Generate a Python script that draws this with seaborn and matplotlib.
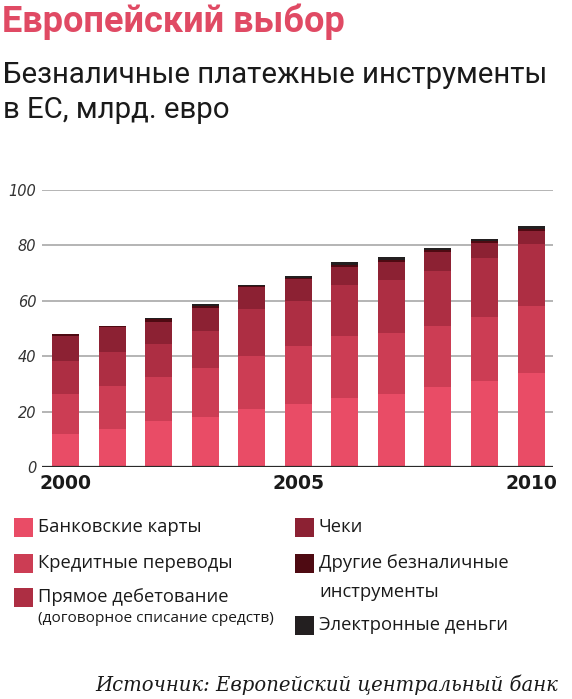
import matplotlib
matplotlib.use("Agg")
import matplotlib.pyplot as plt
from matplotlib.patches import Rectangle
import seaborn as sns
import numpy as np
import pandas as pd

years = ["2000", "2001", "2002", "2003", "2004", "2005", "2006", "2007", "2008", "2009", "2010"]
bank_cards = [11.8, 13.8, 16.5, 18.1, 20.9, 22.6, 24.8, 26.4, 28.8, 31.2, 34.1]
credit_transfers = [14.4, 15.4, 16.1, 17.5, 19.3, 21.2, 22.6, 22.1, 22.2, 23.1, 24.0]
direct_debit = [12.1, 12.4, 11.8, 13.5, 16.8, 16.2, 18.2, 19.0, 19.6, 21.0, 22.3]
cheques = [9.1, 8.8, 8.1, 8.4, 8.1, 7.7, 6.7, 6.6, 6.9, 5.7, 4.8]
other_instruments = [0.5, 0.5, 0.8, 0.7, 0.4, 0.7, 0.8, 0.8, 0.7, 0.5, 0.6]
e_money = [0.1, 0.1, 0.4, 0.5, 0.3, 0.6, 0.8, 0.9, 0.9, 0.8, 1.2]

series_names = ["Банковские карты", "Кредитные переводы", "Прямое дебетование",
                "Чеки", "Другие безналичные инструменты", "Электронные деньги"]
series_values = [bank_cards, credit_transfers, direct_debit, cheques, other_instruments, e_money]
colors = ["#E94C66", "#CC3D54", "#AD2E43", "#8C2133", "#4E0A12", "#231F20"]
y_ticks = [0, 20, 40, 60, 80, 100]
x_tick_labels = {"2000": "2000", "2005": "2005", "2010": "2010"}

W, H = 572, 699
fig = plt.figure(figsize=(W / 100, H / 100), dpi=100)
fig.patch.set_facecolor("white")

def fx(px):
    return px / W

def fy(py):
    return 1 - py / H

ax = fig.add_axes([fx(42), fy(467), fx(553) - fx(42), fy(190) - fy(467)])
sns.set_style("white")

# cumulative stacked bars drawn from top series down
cum = np.cumsum(np.array(series_values), axis=0)
for i in range(len(series_names) - 1, -1, -1):
    df = pd.DataFrame({"year": years, "value": cum[i]})
    sns.barplot(data=df, x="year", y="value", color=colors[i], width=0.58,
                saturation=1, ax=ax, edgecolor="none", linewidth=0, zorder=3)

ax.set_ylim(0, 100)
ax.set_xlim(-0.505, 10.47)
ax.set_yticks(y_ticks)
ax.set_yticklabels([str(t) for t in y_ticks], fontstyle="italic", fontsize=10.5,
                   color="#333333", family="DejaVu Sans")
for t in y_ticks[1:]:
    ax.axhline(t, color="#a0a0a0", lw=1.1, zorder=1)
ax.axhline(0, color="#2a2a2a", lw=1.6, zorder=5)
ax.set_xticks(range(len(years)))
ax.set_xticklabels([x_tick_labels.get(y, "") for y in years], fontsize=13.5,
                   fontweight="bold", color="#1a1a1a", family="DejaVu Sans")
ax.tick_params(axis="both", length=0)
ax.tick_params(axis="y", pad=4)
ax.tick_params(axis="x", pad=5)
ax.set_xlabel("")
ax.set_ylabel("")
for s in ax.spines.values():
    s.set_visible(False)

# Title and subtitle
fig.text(fx(2), fy(22), "Европейский выбор", fontsize=26, fontweight="bold",
         color="#E04A64", family="Roboto", va="center", ha="left")
fig.text(fx(3), fy(75), "Безналичные платежные инструменты", fontsize=21.2,
         color="#1a1a1a", family="Roboto", va="center", ha="left")
fig.text(fx(3), fy(110), "в ЕС, млрд. евро", fontsize=21.2,
         color="#1a1a1a", family="Roboto", va="center", ha="left")

# Legend
legend_items = [
    (14, 527, [series_names[0]], 0),
    (14, 563, [series_names[1]], 1),
    (14, 597, [series_names[2]], 2),
    (295, 527, [series_names[3]], 3),
    (295, 563, ["Другие безналичные"], 4),
    (295, 625, [series_names[5]], 5),
]
sq = 19
for x0, yc, labels, ci in legend_items:
    fig.patches.append(Rectangle((fx(x0), fy(yc + sq / 2)), sq / W, sq / H,
                                 transform=fig.transFigure, facecolor=colors[ci],
                                 edgecolor="none"))
    fig.text(fx(x0 + 24), fy(yc), labels[0], fontsize=13.2, color="#1a1a1a",
             family="Open Sans", va="center", ha="left")
fig.text(fx(319), fy(592), "инструменты", fontsize=13.2, color="#1a1a1a",
         family="Open Sans", va="center", ha="left")
fig.text(fx(38), fy(619), "(договорное списание средств)", fontsize=11.1, color="#1a1a1a",
         family="Open Sans", va="center", ha="left")

# Source
fig.text(fx(558), fy(685), "Источник: Европейский центральный банк", fontsize=14.1,
         fontstyle="italic", color="#1a1a1a", family="DejaVu Serif", va="center", ha="right")

fig.savefig("out.png", dpi=100, facecolor="white")
